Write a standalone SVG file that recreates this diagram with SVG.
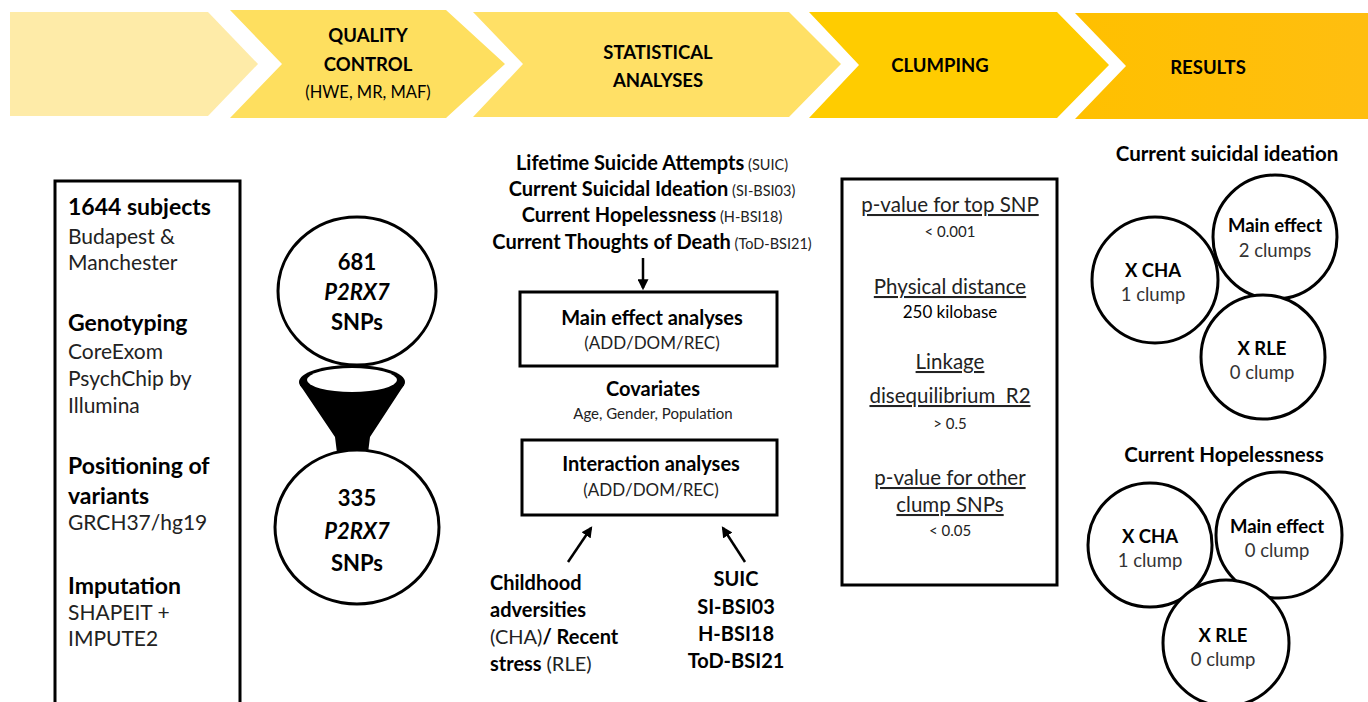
<svg xmlns="http://www.w3.org/2000/svg" width="1368" height="702" viewBox="0 0 1368 702">
<style>
text{font-family:Lato,"Open Sans","Liberation Sans",sans-serif;fill:#000}
.h{font-weight:bold;font-size:18.5px;text-anchor:middle}
.hs{font-size:16.5px;text-anchor:middle}
.b{font-weight:bold;font-size:23px}
.r{font-size:21px;fill:#222}
.cb22{font-weight:bold;font-size:22px;text-anchor:middle}
.c{text-anchor:middle}
.box{fill:#fff;stroke:#000;stroke-width:3}
.circ{fill:#fff;stroke:#000;stroke-width:3}
.mb{font-weight:bold;font-size:20px}
.ms{font-size:14.5px;fill:#222}
.pr{font-size:17px;fill:#222;text-anchor:middle}
.u{font-size:20.5px;text-decoration:underline;text-anchor:middle;fill:#222}
.s{font-size:15px;text-anchor:middle;fill:#222}
.cb{font-weight:bold;font-size:18.5px;text-anchor:middle}
.cr{font-size:18.5px;text-anchor:middle;fill:#333}
.t{font-weight:bold;font-size:20.5px;text-anchor:middle}
.con{stroke:#000;stroke-width:2.5;fill:none;marker-end:url(#ah)}
</style>
<defs>
<marker id="ah" viewBox="0 0 10 10" refX="8" refY="5" markerWidth="4.4" markerHeight="4.4" orient="auto-start-reverse" markerUnits="strokeWidth">
<path d="M0,0 L10,5 L0,10 Z" fill="#000"/>
</marker>
<linearGradient id="g5" x1="0" y1="0" x2="1" y2="0">
<stop offset="0" stop-color="#FFC000"/>
<stop offset="1" stop-color="#FFBE10"/>
</linearGradient>
</defs>

<g id="stage-start">
<polygon points="10,12 208,12 258,64 208,116 10,116" fill="#FEEBA8"/>
</g>
<g id="stage-qc">
<polygon points="230,10 446,10 505,64 446,118 230,118 282,64" fill="#FEDF5F"/>
<text class="h" x="368" y="42">QUALITY</text>
<text class="h" x="368" y="71">CONTROL</text>
<text class="hs" x="368" y="98">(HWE, MR, MAF)</text>
</g>
<g id="stage-stat">
<polygon points="473,12 789,12 841,64 789,117 473,117 523,64" fill="#FFE066"/>
<text class="h" x="658" y="59">STATISTICAL</text>
<text class="h" x="658" y="87">ANALYSES</text>
</g>
<g id="stage-clump">
<polygon points="809,12 1057,12 1109,65 1057,118 809,118 859,65" fill="#FFCC00"/>
<text class="h" x="940" y="72">CLUMPING</text>
</g>
<g id="stage-results">
<polygon points="1075,13 1368,13 1368,119 1075,119 1126,66" fill="url(#g5)"/>
<text class="h" x="1208" y="74">RESULTS</text>
</g>

<g id="subjects-box">
<rect class="box" x="55" y="181" width="185" height="530"/>
<text class="b" x="68" y="215">1644 subjects</text>
<text class="r" x="68" y="244">Budapest &amp;</text>
<text class="r" x="68" y="270">Manchester</text>
<text class="b" x="68" y="331">Genotyping</text>
<text class="r" x="68" y="359">CoreExom</text>
<text class="r" x="68" y="386">PsychChip by</text>
<text class="r" x="68" y="413">Illumina</text>
<text class="b" x="68" y="474">Positioning of</text>
<text class="b" x="68" y="504">variants</text>
<text class="r" x="68" y="530">GRCH37/hg19</text>
<text class="b" x="68" y="594">Imputation</text>
<text class="r" x="68" y="620">SHAPEIT +</text>
<text class="r" x="68" y="646">IMPUTE2</text>
</g>

<g id="funnel">
<polygon points="300,385 404,385 370,437 368,453 337,453 335,437" fill="#000"/>
<ellipse cx="352" cy="382" rx="53" ry="17" fill="#000"/>
<ellipse cx="352" cy="380" rx="45" ry="12" fill="#fff"/>
</g>
<g id="snps-681">
<ellipse class="circ" cx="357" cy="291" rx="79" ry="74"/>
<text class="cb22" x="357" y="270">681</text>
<text class="cb22" x="357" y="300" font-style="italic">P2RX7</text>
<text class="cb22" x="357" y="330">SNPs</text>
</g>
<g id="snps-335">
<ellipse class="circ" cx="357" cy="527" rx="82" ry="77"/>
<text class="cb22" x="357" y="506">335</text>
<text class="cb22" x="357" y="539" font-style="italic">P2RX7</text>
<text class="cb22" x="357" y="571">SNPs</text>
</g>

<g id="phenotypes">
<text x="652" y="170" text-anchor="middle"><tspan class="mb">Lifetime Suicide Attempts</tspan><tspan class="ms"> (SUIC)</tspan></text>
<text x="652" y="196" text-anchor="middle"><tspan class="mb">Current Suicidal Ideation</tspan><tspan class="ms"> (SI-BSI03)</tspan></text>
<text x="652" y="222" text-anchor="middle"><tspan class="mb">Current Hopelessness</tspan><tspan class="ms"> (H-BSI18)</tspan></text>
<text x="652" y="249" text-anchor="middle"><tspan class="mb">Current Thoughts of Death</tspan><tspan class="ms"> (ToD-BSI21)</tspan></text>
</g>
<g id="main-effect">
<rect class="box" x="520" y="292" width="257" height="74"/>
<text class="mb c" x="652" y="325">Main effect analyses</text>
<text class="pr" x="652" y="349">(ADD/DOM/REC)</text>
</g>
<g id="covariates">
<text class="mb c" x="653" y="396">Covariates</text>
<text class="s" x="653" y="419">Age, Gender, Population</text>
</g>
<g id="interaction">
<rect class="box" x="522" y="440" width="255" height="75"/>
<text class="mb c" x="651" y="471">Interaction analyses</text>
<text class="pr" x="651" y="496">(ADD/DOM/REC)</text>
</g>
<g id="env-factors">
<text class="mb" x="490" y="590">Childhood</text>
<text class="mb" x="490" y="617">adversities</text>
<text x="490" y="644"><tspan font-size="20" fill="#222">(CHA)</tspan><tspan class="mb">/ Recent</tspan></text>
<text x="490" y="671"><tspan class="mb">stress </tspan><tspan font-size="20" fill="#222">(RLE)</tspan></text>
</g>
<g id="pheno-list">
<text class="mb c" x="736" y="586">SUIC</text>
<text class="mb c" x="736" y="614">SI-BSI03</text>
<text class="mb c" x="736" y="641">H-BSI18</text>
<text class="mb c" x="736" y="668">ToD-BSI21</text>
</g>

<g id="clumping-box">
<rect class="box" x="842" y="179" width="215" height="406"/>
<text class="u" x="950" y="212">p-value for top SNP</text>
<text class="s" x="950" y="237">&lt; 0.001</text>
<text class="u" x="950" y="294">Physical distance</text>
<text class="c" x="950" y="318" font-size="17" fill="#222">250 kilobase</text>
<text class="u" x="950" y="369">Linkage</text>
<text class="u" x="950" y="403" xml:space="preserve">disequilibrium  R2</text>
<text class="s" x="950" y="429">&gt; 0.5</text>
<text class="u" x="950" y="485">p-value for other</text>
<text class="u" x="950" y="512">clump SNPs</text>
<text class="s" x="950" y="536">&lt; 0.05</text>
</g>

<g id="results-ideation">
<text class="t" x="1227" y="161">Current suicidal ideation</text>
<circle class="circ" cx="1155" cy="280" r="63"/>
<circle class="circ" cx="1275" cy="237" r="62"/>
<circle class="circ" cx="1263" cy="357" r="62"/>
<text class="cb" x="1153" y="277">X CHA</text>
<text class="cr" x="1153" y="301">1 clump</text>
<text class="cb" x="1275" y="232">Main effect</text>
<text class="cr" x="1275" y="257">2 clumps</text>
<text class="cb" x="1262" y="355">X RLE</text>
<text class="cr" x="1262" y="379">0 clump</text>
</g>
<g id="results-hopelessness">
<text class="t" x="1224" y="462">Current Hopelessness</text>
<circle class="circ" cx="1150" cy="545" r="62"/>
<circle class="circ" cx="1279" cy="535" r="63"/>
<circle class="circ" cx="1226" cy="643" r="63"/>
<text class="cb" x="1150" y="543">X CHA</text>
<text class="cr" x="1150" y="567">1 clump</text>
<text class="cb" x="1277" y="533">Main effect</text>
<text class="cr" x="1277" y="557">0 clump</text>
<text class="cb" x="1223" y="642">X RLE</text>
<text class="cr" x="1223" y="666">0 clump</text>
</g>

<g id="connectors">
<line class="con" x1="643" y1="258" x2="643" y2="288"/>
<line class="con" x1="568" y1="562" x2="591" y2="528"/>
<line class="con" x1="745" y1="562" x2="723" y2="528"/>
</g>
</svg>
